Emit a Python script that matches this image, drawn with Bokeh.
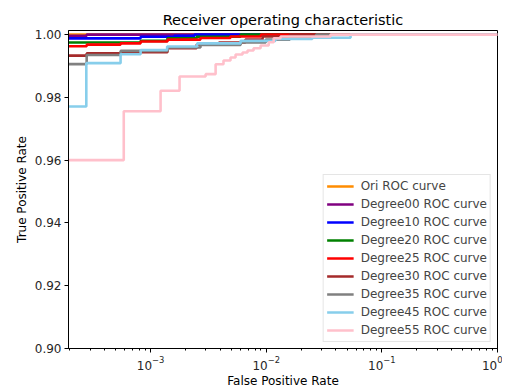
from bokeh.plotting import figure
from bokeh.models import FixedTicker, NumeralTickFormatter, Range1d
from bokeh.embed import file_html
from bokeh.resources import INLINE

# ---- data ----
ori_fpr = [1e-4, 1.0]
ori_tpr = [1.0, 1.0]

deg00_fpr = [1e-4, 2.8e-4, 1.0]
deg00_tpr = [0.9996, 1.0, 1.0]

deg10_fpr = [1e-4, 8.2e-4, 1.6e-3, 2.4e-3, 1.0]
deg10_tpr = [0.9988, 0.9993, 0.9996, 1.0, 1.0]

deg20_fpr = [1e-4, 8.2e-4, 1.4e-3, 2.5e-3, 6.0e-3, 1.0]
deg20_tpr = [0.9975, 0.9980, 0.9988, 0.9993, 1.0, 1.0]

deg25_fpr = [1e-4, 2.8e-4, 5.5e-4, 8.2e-4, 1.4e-3, 2.7e-3, 4.9e-3, 9.0e-3, 1.0]
deg25_tpr = [0.9963, 0.9968, 0.9972, 0.9978, 0.9984, 0.9989, 0.9994, 1.0, 1.0]

deg30_fpr = [1e-4, 2.8e-4, 5.5e-4, 1.4e-3, 2.5e-3, 3.9e-3, 6.6e-3, 9.3e-3, 1.6e-2, 1.0]
deg30_tpr = [0.9933, 0.9940, 0.9944, 0.9957, 0.9968, 0.9975, 0.9984, 0.9994, 1.0, 1.0]

deg35_fpr = [1e-4, 2.8e-4, 5.5e-4, 1.4e-3, 2.7e-3, 6.0e-3, 9.9e-3, 1.6e-2, 2.7e-2, 1.0]
deg35_tpr = [0.9906, 0.9935, 0.9948, 0.9959, 0.9967, 0.9975, 0.9984, 0.9990, 1.0, 1.0]

deg45_fpr = [1e-4, 2.78e-4, 5.5e-4, 8.2e-4, 1.39e-3, 2.53e-3, 6.0e-3, 1.2e-2, 2.5e-2, 5.36e-2, 1.0]
deg45_tpr = [0.9771, 0.9909, 0.99375, 0.9951, 0.9962, 0.9972, 0.9980, 0.9986, 0.9990, 1.0, 1.0]

deg55_fpr = [1e-4, 5.86e-4, 1.22e-3, 1.78e-3, 2.99e-3, 3.65e-3, 4.27e-3, 4.91e-3, 5.43e-3,
             6.24e-3, 6.89e-3, 7.77e-3, 8.94e-3, 1.05e-2, 1.16e-2, 1.33e-2, 3.6e-2, 1.0]
deg55_tpr = [0.9600, 0.97556, 0.98213, 0.98667, 0.98740, 0.99057, 0.99175, 0.99270, 0.99365,
             0.99429, 0.99492, 0.99565, 0.99651, 0.99756, 0.99883, 0.99937, 1.0, 1.0]

series_labels = ["Ori ROC curve", "Degree00 ROC curve", "Degree10 ROC curve",
                 "Degree20 ROC curve", "Degree25 ROC curve", "Degree30 ROC curve",
                 "Degree35 ROC curve", "Degree45 ROC curve", "Degree55 ROC curve"]
series_colors = ["#FF8C00", "#800080", "#0000FF", "#008000", "#FF0000",
                 "#A52A2A", "#808080", "#87CEEB", "#FFC0CB"]
series_fpr = [ori_fpr, deg00_fpr, deg10_fpr, deg20_fpr, deg25_fpr,
              deg30_fpr, deg35_fpr, deg45_fpr, deg55_fpr]
series_tpr = [ori_tpr, deg00_tpr, deg10_tpr, deg20_tpr, deg25_tpr,
              deg30_tpr, deg35_tpr, deg45_tpr, deg55_tpr]

y_ticks = [0.90, 0.92, 0.94, 0.96, 0.98, 1.00]

FONT = "DejaVu Sans"

p = figure(frame_width=429, frame_height=318, x_axis_type="log",
           x_range=Range1d(1.95e-4, 1.0), y_range=Range1d(0.9, 1.0013),
           output_backend="svg", toolbar_location=None,
           title="Receiver operating characteristic",
           min_border_left=68, min_border_right=5,
           min_border_top=30, min_border_bottom=34)

for fx, ty, lab, col in zip(series_fpr, series_tpr, series_labels, series_colors):
    p.step(fx, ty, mode="after", line_color=col, line_width=2.6, legend_label=lab)

p.title.align = "center"
p.title.text_font = FONT
p.title.text_font_size = "14.5px"
p.title.text_font_style = "normal"
p.title.text_color = "#000000"
p.title.standoff = 5

p.xgrid.visible = False
p.ygrid.visible = False
p.outline_line_color = "#000000"
p.outline_line_alpha = 1.0
p.outline_line_width = 1

p.yaxis.ticker = FixedTicker(ticks=y_ticks)
p.yaxis.formatter = NumeralTickFormatter(format="0.00")

for ax in (p.xaxis[0], p.yaxis[0]):
    ax.axis_line_color = "#000000"
    ax.major_tick_line_color = "#000000"
    ax.major_tick_in = 0
    ax.major_tick_out = 4
    ax.minor_tick_in = 0
    ax.minor_tick_out = 2
    ax.major_label_text_font = FONT
    ax.major_label_text_font_size = "12px"
    ax.major_label_text_color = "#262626"
    ax.major_label_standoff = 3
    ax.axis_label_text_font = FONT
    ax.axis_label_text_font_size = "12px"
    ax.axis_label_text_font_style = "normal"
    ax.axis_label_text_color = "#000000"
    ax.axis_label_standoff = 3

p.xaxis.minor_tick_line_color = "#000000"
p.yaxis.minor_tick_line_color = None
p.xaxis.axis_label_standoff = 1

p.xaxis.axis_label = "False Positive Rate"
p.yaxis.axis_label = "True Positive Rate"

p.legend.location = "bottom_right"
p.legend.margin = 6
p.legend.padding = 3
p.legend.spacing = 2
p.legend.label_text_font = FONT
p.legend.label_text_font_size = "12px"
p.legend.label_height = 16
p.legend.glyph_height = 16
p.legend.glyph_width = 27
p.legend.label_standoff = 7
p.legend.border_line_color = "#CCCCCC"
p.legend.border_line_width = 1
p.legend.background_fill_alpha = 0.8

open("out.html", "w").write(file_html(p, INLINE))
